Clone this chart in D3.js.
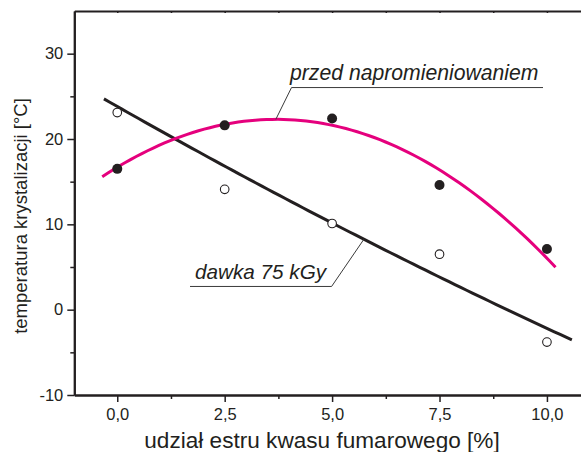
<!DOCTYPE html>
<html>
<head>
<meta charset="utf-8">
<script src="https://cdn.jsdelivr.net/npm/d3@7"></script>
<style>
  body { margin: 0; background: #fff; }
  svg { display: block; }
  text { font-family: "Liberation Sans", Arial, Helvetica, sans-serif; fill: #231f20; }
</style>
</head>
<body>
<svg id="chart" width="581" height="452"></svg>
<script>
// Fumaric acid ester content [%] of each sample
const esterContent = [0, 2.5, 5, 7.5, 10];
// Crystallisation temperature [°C] before irradiation (filled markers)
const tempBefore = [16.5, 21.6, 22.4, 14.6, 7.1];
// Crystallisation temperature [°C] after a 75 kGy dose (open markers)
const tempIrradiated = [23.1, 14.1, 10.1, 6.5, -3.8];

// Fitted trend curves: coefficients c0 + c1·x + c2·x² and the x span drawn
const fitBefore = [16.69, 3.034, -0.41];
const fitBeforeSpan = [-0.35, 10.2];
const fitIrradiated = [23.81, -2.86, 0.026];
const fitIrradiatedSpan = [-0.31, 10.58];

// Axis ticks
const xMajorTicks = [0, 2.5, 5, 7.5, 10];
const xMinorTicks = [1.25, 3.75, 6.25, 8.75];
const yMajorTicks = [-10, 0, 10, 20, 30];
const yMinorTicks = [-5, 5, 15, 25];

const xTitle = "udział estru kwasu fumarowego [%]";
const yTitle = "temperatura krystalizacji [°C]";
const labelBefore = "przed napromieniowaniem";
const labelIrradiated = "dawka 75 kGy";

const ink = "#231f20";
const magenta = "#e5007d";

const svg = d3.select("#chart");

const x = d3.scaleLinear().domain([-1, 11]).range([74.3, 589.9]);
const y = d3.scaleLinear().domain([-10, 35]).range([395, 11]);

// Decimal comma on the x axis, plain hyphen-minus on the y axis
const plLocale = d3.formatLocale({ decimal: ",", thousands: " ", grouping: [3], currency: ["", " zł"], minus: "-" });
const fmtX = plLocale.format(".1f");
const fmtY = plLocale.format("d");

function styleAxis(g) {
  g.select(".domain").attr("stroke", ink).attr("stroke-width", 2);
  g.selectAll(".tick line").attr("stroke", ink).attr("stroke-width", 1.5);
  g.selectAll(".tick text").attr("fill", ink).style("font-size", "16.5px");
}

// Bottom axis
svg.append("g")
  .attr("transform", `translate(0,${y(-10)})`)
  .call(d3.axisBottom(x).tickValues(xMinorTicks).tickSize(4).tickSizeOuter(0).tickFormat(""))
  .call(styleAxis);
svg.append("g")
  .attr("transform", `translate(0,${y(-10)})`)
  .call(d3.axisBottom(x).tickValues(xMajorTicks).tickSize(7).tickSizeOuter(0).tickPadding(6).tickFormat(fmtX))
  .call(styleAxis);

// Top frame line with small inward ticks
svg.append("g")
  .attr("transform", `translate(0,${y(35)})`)
  .call(d3.axisTop(x).tickValues(xMajorTicks.concat(xMinorTicks)).tickSize(-2).tickSizeOuter(0).tickFormat(""))
  .call(styleAxis);

// Left axis
svg.append("g")
  .attr("transform", `translate(${x(-1)},0)`)
  .call(d3.axisLeft(y).tickValues(yMinorTicks).tickSize(4).tickSizeOuter(0).tickFormat(""))
  .call(styleAxis);
svg.append("g")
  .attr("transform", `translate(${x(-1)},0)`)
  .call(d3.axisLeft(y).tickValues(yMajorTicks).tickSize(7).tickSizeOuter(0).tickPadding(4).tickFormat(fmtY))
  .call(styleAxis);

// Axis titles
svg.append("text")
  .attr("x", 322).attr("y", 448)
  .attr("text-anchor", "middle")
  .style("font-size", "22.6px")
  .text(xTitle);
svg.append("text")
  .attr("transform", `translate(27,216) rotate(-90)`)
  .attr("text-anchor", "middle")
  .style("font-size", "18.5px")
  .text(yTitle);

// Fitted curves
const poly = (c) => (v) => c[0] + c[1] * v + c[2] * v * v;
function curvePoints(c, span) {
  const f = poly(c);
  const n = 80;
  return d3.range(n + 1).map(i => {
    const v = span[0] + (span[1] - span[0]) * i / n;
    return [v, f(v)];
  });
}
const line = d3.line().x(d => x(d[0])).y(d => y(d[1])).curve(d3.curveLinear);

svg.append("path")
  .attr("d", line(curvePoints(fitIrradiated, fitIrradiatedSpan)))
  .attr("fill", "none").attr("stroke", ink).attr("stroke-width", 3);
svg.append("path")
  .attr("d", line(curvePoints(fitBefore, fitBeforeSpan)))
  .attr("fill", "none").attr("stroke", magenta).attr("stroke-width", 3);

// Markers
svg.append("g").selectAll("circle")
  .data(esterContent.map((v, i) => [v, tempIrradiated[i]]))
  .join("circle")
  .attr("cx", d => x(d[0])).attr("cy", d => y(d[1])).attr("r", 4.3)
  .attr("fill", "#fff").attr("stroke", ink).attr("stroke-width", 1.1);
svg.append("g").selectAll("circle")
  .data(esterContent.map((v, i) => [v, tempBefore[i]]))
  .join("circle")
  .attr("cx", d => x(d[0])).attr("cy", d => y(d[1])).attr("r", 5)
  .attr("fill", ink);

// Callout labels: leader from a point on the curve to an underlined label
function callout(text, c, atX, dx, dy, underlineTo, textX, fontSize) {
  const ax = x(atX), ay = y(poly(c)(atX));
  const ex = ax + dx, ey = ay + dy;
  const g = svg.append("g");
  g.append("path")
    .attr("d", `M${ax},${ay} L${ex},${ey} L${underlineTo},${ey}`)
    .attr("fill", "none").attr("stroke", "#3a3a3a").attr("stroke-width", 1);
  g.append("text")
    .attr("x", textX).attr("y", ey - 7.5)
    .style("font-size", fontSize + "px").style("font-style", "italic")
    .text(text);
}
callout(labelBefore, fitBefore, 3.69, 15.7, -31.8, 543, 290, 21.2);
callout(labelIrradiated, fitIrradiated, 5.74, -32.3, 47.2, 190, 195, 20.7);
</script>
</body>
</html>
